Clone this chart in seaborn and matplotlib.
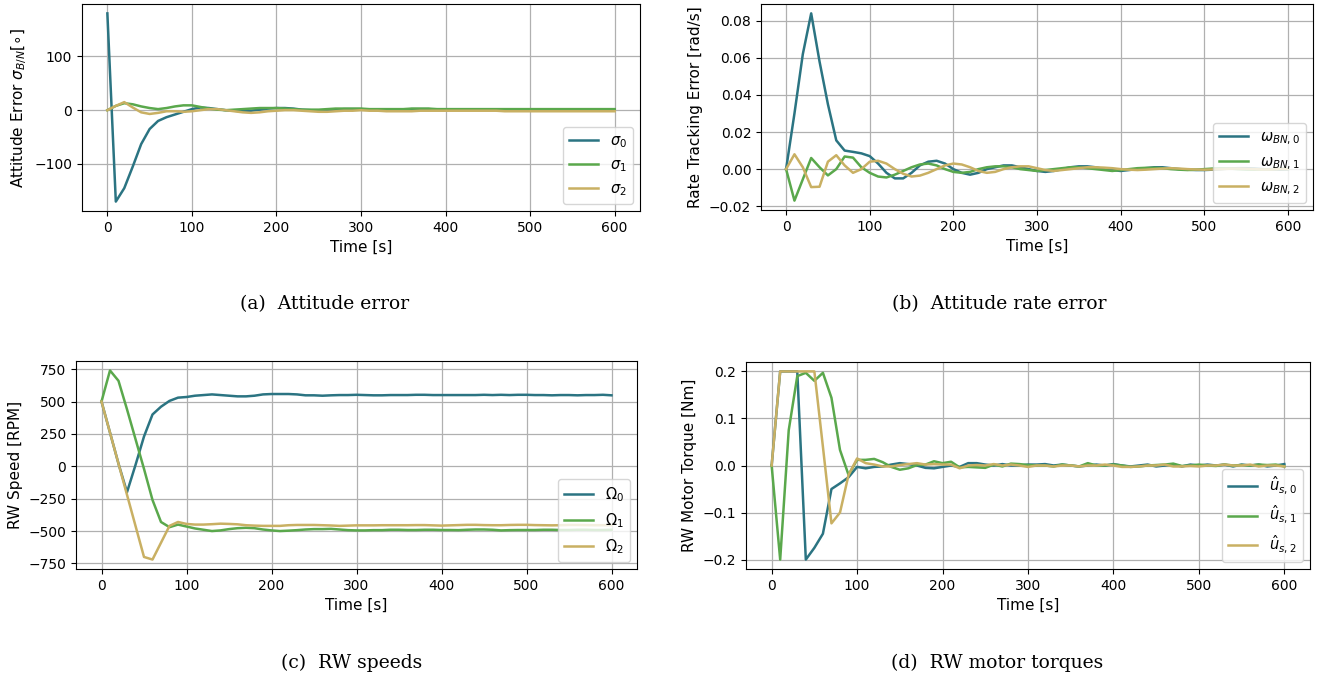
import numpy as np
import pandas as pd
import matplotlib
matplotlib.use("Agg")
import matplotlib.pyplot as plt
import seaborn as sns

# ---------------- data (sampled every 10 s) ----------------
time_s = list(range(0, 601, 10))

sigma0 = [180, -170, -145, -105, -63, -35, -20, -13, -8, -3,
          2, 5, 4, 2, 0, -1, -2, -1, 1, 3,
          4, 4, 3, 1, 0, -1, 0, 1, 2, 2,
          2, 1, 0, 0, 1, 1, 2, 2, 2, 1,
          1, 1, 1, 1, 1, 1, 1, 1, 1, 1,
          1, 1, 1, 1, 1, 1, 1, 1, 1, 1, 1]
sigma1 = [0, 8, 13, 11, 7, 4, 2, 4, 7, 9,
          9, 6, 3, 1, 0, 1, 2, 3, 4, 4,
          4, 3, 2, 1, 1, 1, 2, 3, 3, 3,
          3, 2, 2, 2, 2, 2, 3, 3, 3, 2,
          2, 2, 2, 2, 2, 2, 2, 2, 2, 2,
          2, 2, 2, 2, 2, 2, 2, 2, 2, 2, 2]
sigma2 = [0, 8, 15, 5, -4, -7, -5, -2, -2, -3,
          -2, 0, 2, 2, 0, -2, -4, -5, -4, -2,
          -1, 0, 0, -1, -2, -3, -3, -2, -1, -1,
          0, -1, -1, -2, -2, -2, -2, -1, -1, -1,
          -1, -1, -1, -1, -1, -1, -1, -2, -2, -2,
          -2, -2, -2, -2, -2, -2, -2, -2, -2, -2, -2]

omega0 = [0, .030, .062, .084, .058, .035, .0155, .010, .0093, .0085,
          .007, .003, -.002, -.005, -.005, -.002, .002, .004, .0045, .003,
          0, -.002, -.003, -.002, 0, .001, .002, .002, .001, 0,
          -.001, -.0015, -.001, 0, .001, .0015, .0015, .001, 0, -.0005,
          -.001, -.0005, 0, .0005, .001, .001, .0005, 0, -.0003, -.0005,
          -.0005, -.0003, 0, .0003, .0005, .0005, .0003, 0, -.0002, -.0003, -.0002]
omega1 = [0, -.017, -.0055, .006, .001, -.0034, 0, .0068, .0062, .001,
          -.002, -.004, -.0045, -.003, -.001, .001, .0025, .003, .002, 0,
          -.0015, -.002, -.0015, 0, .001, .0015, .0015, .001, 0, -.0005,
          -.001, -.0005, 0, .0005, .001, .001, .0005, 0, -.0005, -.001,
          -.0005, 0, .0005, .0007, .0007, .0005, 0, -.0003, -.0005, -.0003,
          0, .0003, .0004, .0003, 0, -.0002, -.0003, -.0002, 0, .0002, .0002]
omega2 = [0, .008, .001, -.0097, -.0095, .004, .0075, .002, -.002, 0,
          .004, .0045, .003, 0, -.0025, -.004, -.0035, -.002, 0, .002,
          .003, .0025, .001, -.001, -.002, -.0015, 0, .001, .0015, .0015,
          .0005, -.0005, -.001, -.0005, 0, .0005, .001, .001, .0008, .0005,
          0, -.0003, -.0005, -.0003, 0, .0003, .0005, .0003, 0, -.0002,
          -.0003, -.0002, 0, .0002, .0003, .0002, 0, -.0002, -.0002, 0, 0]

Omega0 = [500, 260, 20, -200, 10, 230, 400, 460, 505, 530,
          535, 545, 550, 555, 550, 545, 540, 540, 545, 555,
          558, 558, 558, 555, 548, 548, 545, 548, 550, 550,
          552, 550, 548, 548, 550, 550, 550, 552, 552, 550,
          550, 550, 550, 550, 550, 552, 550, 552, 550, 552,
          552, 550, 550, 548, 550, 550, 548, 550, 550, 552, 548]
Omega1 = [500, 740, 660, 440, 210, -20, -260, -430, -470, -450,
          -465, -480, -490, -500, -495, -485, -478, -475, -478, -488,
          -495, -500, -497, -493, -488, -485, -485, -483, -488, -493,
          -495, -495, -493, -493, -490, -490, -492, -492, -490, -490,
          -492, -492, -493, -490, -488, -488, -490, -495, -493, -492,
          -492, -492, -490, -490, -492, -492, -490, -490, -492, -492, -490]
Omega2 = [500, 260, 20, -220, -460, -700, -720, -590, -460, -430,
          -445, -450, -450, -447, -443, -445, -448, -455, -458, -460,
          -460, -460, -455, -453, -453, -453, -455, -457, -460, -458,
          -456, -456, -456, -455, -455, -455, -455, -454, -454, -456,
          -458, -456, -454, -452, -452, -454, -455, -455, -453, -452,
          -452, -454, -455, -456, -455, -453, -453, -454, -455, -455, -455]

u0 = [0, .2, .2, .2, -.2, -.175, -.145, -.05, -.038, -.025,
      -.003, -.006, -.003, -.002, .002, .005, .003, 0, -.005, -.006,
      -.003, 0, -.003, .005, .005, .002, 0, .003, 0, 0,
      .002, .002, .003, 0, .002, 0, -.002, 0, .002, 0,
      .003, 0, -.002, 0, .002, -.002, 0, .002, -.002, .002,
      0, .002, 0, .002, -.002, .002, 0, .002, -.002, 0, .003]
u1 = [0, -.2, .075, .19, .197, .18, .197, .144, .033, -.02,
      .012, .012, .014, .007, -.003, -.009, -.006, .001, .002, .009,
      .005, .008, -.004, -.003, -.004, -.005, .002, -.002, .004, .003,
      .001, 0, 0, -.002, .002, 0, -.002, .005, 0, 0,
      .002, 0, -.003, -.002, 0, .001, .002, .004, -.001, 0,
      .002, 0, -.001, .002, 0, .001, 0, .002, .001, .002, -.002]
u2 = [0, .2, .2, .2, .2, .2, .04, -.123, -.1, -.02,
      .015, .005, .002, -.002, -.002, .001, .003, .005, .002, .003,
      .002, .002, -.006, 0, .001, 0, .003, 0, .002, 0,
      -.003, 0, 0, -.002, 0, 0, -.002, 0, 0, .002,
      0, -.003, -.003, -.002, 0, 0, .002, -.002, -.002, -.001,
      -.002, 0, 0, .002, 0, 0, .002, -.002, 0, 0, -.002]

colors = ["#2b7482", "#5aa84c", "#c9b063"]

panels = [
    dict(series=[sigma0, sigma1, sigma2],
         labels=[r"$\sigma_0$", r"$\sigma_1$", r"$\sigma_2$"],
         ylabel=r"Attitude Error $\sigma_{B/N} [\circ]$",
         rect=[82, 4, 640, 211], caption="(a)  Attitude error", cap=(325, 304)),
    dict(series=[omega0, omega1, omega2],
         labels=[r"$\omega_{BN,0}$", r"$\omega_{BN,1}$", r"$\omega_{BN,2}$"],
         ylabel="Rate Tracking Error [rad/s]",
         rect=[761, 4, 1313, 210], caption="(b)  Attitude rate error", cap=(999, 304)),
    dict(series=[Omega0, Omega1, Omega2],
         labels=[r"$\Omega_0$", r"$\Omega_1$", r"$\Omega_2$"],
         ylabel="RW Speed [RPM]",
         rect=[76, 361, 637, 569], caption="(c)  RW speeds", cap=(352, 663)),
    dict(series=[u0, u1, u2],
         labels=[r"$\hat{u}_{s,0}$", r"$\hat{u}_{s,1}$", r"$\hat{u}_{s,2}$"],
         ylabel="RW Motor Torque [Nm]",
         rect=[746, 362, 1310, 569], caption="(d)  RW motor torques", cap=(997, 663)),
]

plt.rcParams["font.size"] = 10
W, H = 1331, 682
fig = plt.figure(figsize=(W / 100, H / 100), dpi=100)

for p in panels:
    l, t, r, b = p["rect"]
    ax = fig.add_axes([l / W, 1 - b / H, (r - l) / W, (b - t) / H])
    for vals, lab, c in zip(p["series"], p["labels"], colors):
        assert len(vals) == len(time_s)
        sns.lineplot(x=time_s, y=vals, color=c, label=lab, linewidth=1.8, ax=ax)
    ax.grid(True, color="#b0b0b0", linewidth=0.9)
    ax.set_axisbelow(True)
    ax.set_xticks([0, 100, 200, 300, 400, 500, 600])
    ax.set_xlabel("Time [s]", fontsize=11)
    ax.set_ylabel(p["ylabel"], fontsize=11)
    ax.tick_params(labelsize=10)
    ax.legend(loc="lower right", fontsize=10.5)
    fig.text(p["cap"][0] / W, 1 - p["cap"][1] / H, p["caption"],
             ha="center", va="center", family="DejaVu Serif", fontsize=13.5)

fig.savefig("out.png", dpi=100)
